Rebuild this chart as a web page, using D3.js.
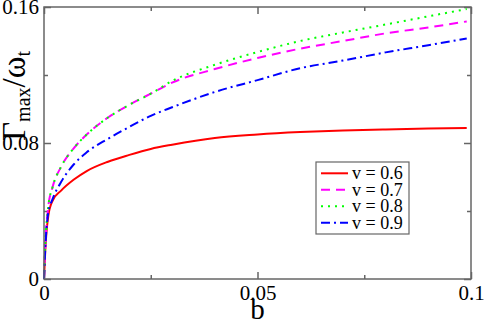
<!DOCTYPE html>
<html>
<head>
<meta charset="utf-8">
<script src="https://cdn.jsdelivr.net/npm/d3@7"></script>
<style>
  html, body { margin: 0; padding: 0; background: #fff; }
  .frame { fill: none; stroke: #666; stroke-width: 1.5; }
  .axis path { display: none; }
  .axis line { stroke: #666; stroke-width: 1.5; }
  .curve { fill: none; stroke-width: 2; }
</style>
</head>
<body>
<svg id="chart" width="484" height="322" font-family="Liberation Serif"></svg>
<script>
/* b values shared by every curve */
const bValues = [0, 0.0003, 0.001, 0.002, 0.004, 0.007, 0.01, 0.015, 0.02, 0.025,
                 0.03, 0.04, 0.05, 0.06, 0.07, 0.08, 0.09, 0.099];

const gammaV06 = [0, 0.017, 0.037, 0.046, 0.052, 0.0585, 0.0635, 0.069, 0.073, 0.0765,
                  0.079, 0.083, 0.085, 0.0864, 0.0874, 0.088, 0.0885, 0.0888];
const gammaV07 = [0, 0.020, 0.0425, 0.054, 0.066, 0.077, 0.085, 0.095, 0.1025, 0.109,
                  0.1155, 0.1235, 0.130, 0.1355, 0.140, 0.1445, 0.148, 0.1515];
const gammaV08 = [0, 0.020, 0.0425, 0.054, 0.066, 0.077, 0.085, 0.095, 0.1025, 0.109,
                  0.1165, 0.126, 0.1335, 0.140, 0.145, 0.1497, 0.1545, 0.1588];
const gammaV09 = [0, 0.018, 0.039, 0.047, 0.057, 0.0675, 0.0745, 0.0825, 0.0895, 0.096,
                  0.101, 0.110, 0.117, 0.124, 0.1285, 0.1333, 0.1375, 0.1415];

const seriesNames = ["v = 0.6", "v = 0.7", "v = 0.8", "v = 0.9"];
const seriesValues = [gammaV06, gammaV07, gammaV08, gammaV09];
const seriesColors = ["#ff0000", "#ff00ff", "#00ff00", "#0000ff"];
const seriesDash = [null, "9,6", "2,5", "9,4,2,4"];

const xMajor = [0, 0.05, 0.1];
const xMinor = [0.025, 0.075];
const yMajor = [0, 0.08, 0.16];
const yMinor = [0.04, 0.12];
const xTickText = ["0", "0.05", "0.1"];
const yTickText = ["0", "0.08", "0.16"];

const FONT = "Liberation Serif";

const svg = d3.select("#chart");
const plotLeft = 44, plotRight = 471, plotTop = 7, plotBottom = 279;

const x = d3.scaleLinear().domain([0, 0.1]).range([plotLeft, plotRight]);
const y = d3.scaleLinear().domain([0, 0.16]).range([plotBottom, plotTop]);

/* ---------- axes: ticks point inward on all four sides ---------- */

function addAxis(axis, tx, ty) {
  const g = svg.append("g").attr("class", "axis")
    .attr("transform", "translate(" + tx + "," + ty + ")")
    .call(axis);
  /* d3 puts sans-serif 10px on the group; replace it */
  g.attr("font-family", FONT).attr("font-size", 21);
  g.selectAll("text").attr("fill", "#000");
}

addAxis(d3.axisBottom(x).tickValues(xMajor).tickSize(-7).tickPadding(6)
  .tickFormat(function (d, i) { return xTickText[i]; }), 0, plotBottom);
addAxis(d3.axisBottom(x).tickValues(xMinor).tickSize(-4).tickFormat(""), 0, plotBottom);
addAxis(d3.axisTop(x).tickValues(xMajor).tickSize(-7).tickFormat(""), 0, plotTop);
addAxis(d3.axisTop(x).tickValues(xMinor).tickSize(-4).tickFormat(""), 0, plotTop);

addAxis(d3.axisLeft(y).tickValues(yMajor).tickSize(-7).tickPadding(5)
  .tickFormat(function (d, i) { return yTickText[i]; }), plotLeft, 0);
addAxis(d3.axisLeft(y).tickValues(yMinor).tickSize(-4).tickFormat(""), plotLeft, 0);
addAxis(d3.axisRight(y).tickValues(yMajor).tickSize(-7).tickFormat(""), plotRight, 0);
addAxis(d3.axisRight(y).tickValues(yMinor).tickSize(-4).tickFormat(""), plotRight, 0);

/* ---------- curves ---------- */

const line = d3.line()
  .x(function (d) { return x(d[0]); })
  .y(function (d) { return y(d[1]); })
  .curve(d3.curveMonotoneX);

seriesValues.forEach(function (vals, i) {
  const pts = bValues.map(function (b, j) { return [b, vals[j]]; });
  svg.append("path")
    .attr("class", "curve")
    .attr("d", line(pts))
    .attr("stroke", seriesColors[i])
    .attr("stroke-dasharray", seriesDash[i]);
});

svg.append("rect").attr("class", "frame")
  .attr("x", plotLeft).attr("y", plotTop)
  .attr("width", plotRight - plotLeft).attr("height", plotBottom - plotTop);

/* ---------- axis titles ---------- */

svg.append("text")
  .attr("x", x(0.05)).attr("y", 319)
  .attr("text-anchor", "middle")
  .attr("font-family", FONT)
  .attr("font-size", 29)
  .text("b");

const yTitle = svg.append("text")
  .attr("transform", "translate(25,141) rotate(-90)")
  .attr("font-family", FONT)
  .attr("font-size", 33);
yTitle.append("tspan").text("Γ");
yTitle.append("tspan").attr("dy", 5).attr("font-size", 20).text("max");
yTitle.append("tspan").attr("dy", -5).text("/ω");
yTitle.append("tspan").attr("dy", 5).attr("font-size", 20).text("t");

/* ---------- legend ---------- */

const legend = svg.append("g");
legend.append("rect")
  .attr("x", 316).attr("y", 162).attr("width", 93).attr("height", 72)
  .attr("fill", "#fff").attr("stroke", "#666").attr("stroke-width", 1.2);

seriesNames.forEach(function (name, i) {
  const ly = 173.3 + i * 16.5;
  legend.append("line")
    .attr("x1", 321).attr("x2", 348).attr("y1", ly).attr("y2", ly)
    .attr("stroke", seriesColors[i]).attr("stroke-width", 2)
    .attr("stroke-dasharray", seriesDash[i]);
  legend.append("text")
    .attr("x", 352).attr("y", ly).attr("dy", "0.34em")
    .attr("font-family", FONT)
    .attr("font-size", 18)
    .text(name);
});
</script>
</body>
</html>
